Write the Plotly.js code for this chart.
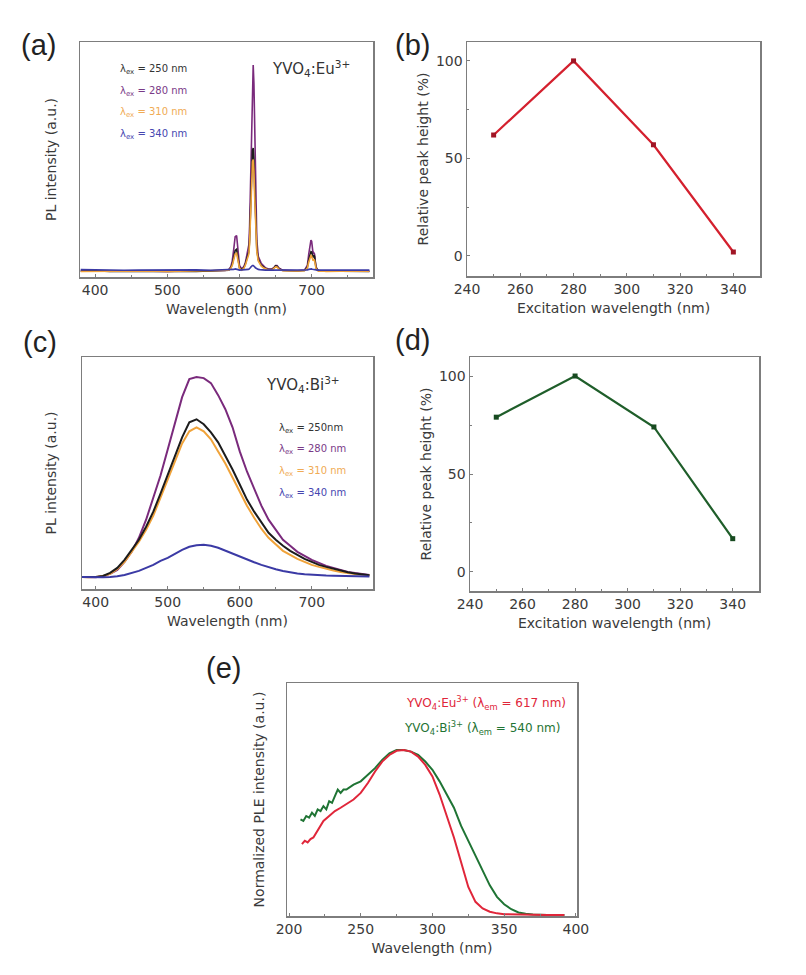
<!DOCTYPE html>
<html>
<head>
<meta charset="utf-8">
<script src="https://cdn.plot.ly/plotly-3.0.1.min.js"></script>
<style>html,body{margin:0;padding:0;background:#fff;}#chart{width:806px;height:975px;}</style>
</head>
<body>
<div id="chart"></div>
<script>
// ---------- Panel (a): YVO4:Eu3+ PL spectra ----------
const wlA = [380,400,420,440,460,480,500,520,540,560,580,585,588,590,592,594,596,598,600,603,606,608,610,612,613,614,615,616,617,618,619,620,621,622,624,626,628,630,633,636,640,645,648,650,652,655,660,670,680,690,694,696,698,699,700,701,702,703,704,705,706,708,710,715,720,740,760,780];
const euEx250 = [0.5,0.7,0.4,0.6,0.5,0.4,0.6,0.5,0.4,0.6,0.7,1,2,3.5,6.5,9.5,10,6,2,1.2,2,3.5,5.5,7.5,9,14,23,35,46,53,54,49,37,24,10,5.5,4,3.2,2.4,1.7,1.2,1.2,2,2.8,2.7,1.5,0.8,0.6,0.6,0.8,2.2,5.5,8.5,9,8.8,7,6.5,7.4,7,4.5,2,1,0.7,0.5,0.6,0.5,0.6,0.4];
const euEx280 = [0.8,0.6,0.5,0.7,0.5,0.6,0.4,0.6,0.5,0.7,0.8,1.2,2.5,5,10,15.5,16,9,3,1.5,2.5,4,7,9,12,20,35,55,75,88,90,82,60,38,14,7,5,4,3,2,1.5,1.5,2.2,3,3,1.8,1,0.8,0.7,1,3,8,13,14,13.5,10,8,8.5,8,5,2.5,1.2,0.8,0.6,0.5,0.6,0.5,0.5];
const euEx310 = [0.4,0.5,0.6,0.4,0.5,0.6,0.4,0.5,0.6,0.5,0.6,0.9,1.8,3,5.5,8,8.3,5,1.8,1,1.8,3,4.8,6.5,8,12.5,21,32,42,48,49,44,33,21,9,5,3.5,2.8,2,1.5,1,1,1.7,2.4,2.3,1.3,0.7,0.5,0.6,0.7,1.8,4.5,7,7.3,7,5.5,5,5.6,5.3,3.5,1.6,0.8,0.5,0.6,0.4,0.5,0.5,0.5];
const euEx340 = [1.2,1,1.1,0.9,1,1.1,0.9,1,1.1,0.9,1,1,1,1.1,1.3,1.5,1.5,1.2,1,1,1,1.1,1.2,1.3,1.4,1.6,2,2.4,2.8,3,3,2.8,2.4,2,1.5,1.3,1.2,1.1,1,1,1,1,1.1,1.2,1.2,1.1,1,1,0.9,1,1.1,1.3,1.5,1.5,1.5,1.4,1.3,1.3,1.3,1.2,1.1,1,1,0.9,1,1,0.9,1];

// ---------- Panels (b) and (d): relative peak height ----------
const excWl = [250, 280, 310, 340];
const euRel = [62, 100, 57, 2];
const biRel = [79, 100, 74, 17];

// ---------- Panel (c): YVO4:Bi3+ PL spectra ----------
const wlC = [380,390,400,410,420,430,440,450,460,470,480,490,500,510,520,530,540,550,560,570,580,590,600,610,620,630,640,650,660,670,680,690,700,710,720,730,740,750,760,770,780];
const biEx250 = [0.5,0.5,0.5,1,2.5,5,9,14,19,25.5,33,42,51.5,61,70,77.5,79,76.5,72.5,67.5,61,54,46.5,39,33,27.5,22.5,19,16,13.5,11.5,9.5,8,6.5,5.5,4.5,3.6,2.8,2.2,1.7,1.3];
const biEx280 = [0.5,0.3,0.3,0.8,2,4,8,13,20,29,40,51,64,77,90,99,100,99.5,97,91,84,75,63,53,44,36,29,24,19,16,13,11,9,7.5,6,5,4,3,2.5,2,1.5];
const biEx310 = [0.5,0.3,0.5,1,2,4.5,8,13,18,24,31,40,49,58,67,73,75,73,69,63,57,50,43,36,30,24.5,20,16.5,13.5,11.5,9.5,8,6.5,5.5,4.5,3.7,3,2.4,2,1.6,1.4];
const biEx340 = [0.5,0.4,0.3,0.4,0.5,0.8,1.5,2.5,3.5,5,6.5,8.5,10,12,14,15.5,16.3,16.5,16,15,13.5,12,10.5,9,7.8,6.5,5.3,4.3,3.5,2.8,2.2,1.8,1.5,1.3,1.2,1.1,1,0.9,0.8,0.8,0.7];

// ---------- Panel (e): normalized PLE ----------
const wlEu = [209,211,213,215,217,219,221,224,228,232,236,240,245,250,255,260,265,270,275,280,285,290,295,300,305,310,315,320,325,330,335,340,345,350,360,370,380,392];
const pleEu = [0.43,0.45,0.44,0.46,0.47,0.50,0.53,0.57,0.60,0.63,0.65,0.67,0.70,0.74,0.80,0.87,0.93,0.97,0.995,1.0,0.99,0.96,0.91,0.84,0.73,0.60,0.47,0.32,0.17,0.08,0.04,0.02,0.01,0.005,0.002,0.001,0,0];
const wlBi = [208,210,212,214,216,218,220,222,224,226,228,230,232,234,236,238,240,245,250,255,260,265,270,275,280,285,290,295,300,305,310,315,320,325,330,335,340,345,350,355,360,365,370,380,392];
const pleBi = [0.58,0.57,0.60,0.59,0.62,0.60,0.64,0.63,0.66,0.64,0.69,0.68,0.72,0.76,0.74,0.76,0.76,0.79,0.81,0.85,0.89,0.94,0.98,1.0,1.0,0.99,0.97,0.93,0.88,0.81,0.73,0.65,0.54,0.45,0.35,0.26,0.18,0.11,0.065,0.035,0.015,0.007,0.003,0,0];

// ---------- colours ----------
const cBlack = '#1c1c1c', cPurple = '#7a2a7c', cOrange = '#f0a33a', cBlue = '#3b3aa5';
const cRed = '#e0263a', cGreen = '#1f7434';

const W = 806, H = 975;
const px = v => v / W;
const py = v => 1 - v / H;

function line(x, y, color, xa, ya, width) {
  return {x: x, y: y, type: 'scatter', mode: 'lines', xaxis: xa, yaxis: ya,
          line: {color: color, width: width || 1.6}, hoverinfo: 'skip', showlegend: false};
}
const traces = [
  line(wlA, euEx280, cPurple, 'x', 'y'),
  line(wlA, euEx250, cBlack, 'x', 'y'),
  line(wlA, euEx310, cOrange, 'x', 'y'),
  line(wlA, euEx340, cBlue, 'x', 'y'),
  {x: excWl, y: euRel, type: 'scatter', mode: 'lines+markers', xaxis: 'x2', yaxis: 'y2',
   line: {color: '#d4202e', width: 2.2}, marker: {symbol: 'square', size: 5, color: '#a01525'}, showlegend: false},
  line(wlC, biEx280, cPurple, 'x3', 'y3', 2),
  line(wlC, biEx310, cOrange, 'x3', 'y3', 2),
  line(wlC, biEx250, cBlack, 'x3', 'y3', 2),
  line(wlC, biEx340, cBlue, 'x3', 'y3', 2),
  {x: excWl, y: biRel, type: 'scatter', mode: 'lines+markers', xaxis: 'x4', yaxis: 'y4',
   line: {color: '#1f5e2a', width: 2.2}, marker: {symbol: 'square', size: 5, color: '#174a20'}, showlegend: false},
  line(wlBi, pleBi, cGreen, 'x5', 'y5', 2),
  line(wlEu, pleEu, cRed, 'x5', 'y5', 2)
];

const FAM = 'DejaVu Sans, Verdana, sans-serif';
const FAM2 = 'Liberation Sans, Arial, sans-serif';
const tickFont = {family: FAM, size: 14, color: '#3a3a3a'};
const titleFont = {family: FAM, size: 14, color: '#3a3a3a'};
const minorT = {ticks: 'inside', ticklen: 2, tickcolor: '#7d7d7d'};
function ax(domain, range, anchor, opts) {
  return Object.assign({
    domain: domain, range: range, anchor: anchor, showgrid: false, zeroline: false,
    showline: true, mirror: true, linecolor: '#7d7d7d', linewidth: 1.5,
    ticks: 'inside', ticklen: 3, tickcolor: '#7d7d7d', tickfont: tickFont
  }, opts);
}

const layout = {
  width: W, height: H, margin: {l: 0, r: 0, t: 0, b: 0},
  paper_bgcolor: '#fff', plot_bgcolor: '#fff', showlegend: false,
  font: {family: FAM2, color: '#333'},
  xaxis: ax([px(80), px(373)], [379, 785], 'y', {dtick: 100, tick0: 400, minor: Object.assign({dtick: 50}, minorT),
          title: {text: 'Wavelength (nm)', font: titleFont, standoff: 7}}),
  yaxis: ax([py(277), py(42)], [-2, 100], 'x', {showticklabels: false, ticks: '',
          title: {text: 'PL intensity (a.u.)', font: titleFont, standoff: 18}}),
  xaxis2: ax([px(467), px(760)], [240, 350], 'y2', {dtick: 20, tick0: 240, minor: Object.assign({dtick: 10}, minorT),
          title: {text: 'Excitation wavelength (nm)', font: titleFont, standoff: 7}}),
  yaxis2: ax([py(276), py(42)], [-10.3, 109.7], 'x2', {dtick: 50, tick0: 0, minor: Object.assign({dtick: 25}, minorT),
          title: {text: 'Relative peak height (%)', font: titleFont, standoff: 4}}),
  xaxis3: ax([px(82), px(373)], [381, 785], 'y3', {dtick: 100, tick0: 400, minor: Object.assign({dtick: 50}, minorT),
          title: {text: 'Wavelength (nm)', font: titleFont, standoff: 7}}),
  yaxis3: ax([py(589), py(357)], [-5.5, 110], 'x3', {showticklabels: false, ticks: '',
          title: {text: 'PL intensity (a.u.)', font: titleFont, standoff: 20}}),
  xaxis4: ax([px(470), px(759)], [240, 350], 'y4', {dtick: 20, tick0: 240, minor: Object.assign({dtick: 10}, minorT),
          title: {text: 'Excitation wavelength (nm)', font: titleFont, standoff: 7}}),
  yaxis4: ax([py(591), py(357)], [-9.7, 109.7], 'x4', {dtick: 50, tick0: 0, minor: Object.assign({dtick: 25}, minorT),
          title: {text: 'Relative peak height (%)', font: titleFont, standoff: 4}}),
  xaxis5: ax([px(287), px(577)], [198.6, 400.8], 'y5', {dtick: 50, tick0: 200, minor: Object.assign({dtick: 25}, minorT),
          title: {text: 'Wavelength (nm)', font: titleFont, standoff: 7}}),
  yaxis5: ax([py(916), py(683)], [-0.006, 1.406], 'x5', {showticklabels: false, ticks: '',
          title: {text: 'Normalized PLE intensity (a.u.)', font: titleFont, standoff: 17}}),
  annotations: []
};

function ann(x, y, text, size, color, xanchor, fam) {
  layout.annotations.push({xref: 'paper', yref: 'paper', x: px(x), y: py(y), text: text, showarrow: false,
    xanchor: xanchor || 'left', yanchor: 'middle',
    font: {family: fam || FAM2, size: size, color: color}});
}
// panel letters
ann(19, 45, '(a)', 29, '#222');
ann(393, 45, '(b)', 29, '#222');
ann(21, 342, '(c)', 29, '#222');
ann(393, 340, '(d)', 29, '#222');
ann(204, 668, '(e)', 29, '#222');
// panel (a) labels
ann(270, 68, 'YVO<sub>4</sub>:Eu<sup>3+</sup>', 15, '#333', 'left', FAM);
ann(118, 70, 'λ<sub>ex</sub> = 250 nm', 10, '#333', 'left', FAM);
ann(118, 91, 'λ<sub>ex</sub> = 280 nm', 10, '#7a3a88', 'left', FAM);
ann(118, 113, 'λ<sub>ex</sub> = 310 nm', 10, '#f0ab55', 'left', FAM);
ann(118, 135, 'λ<sub>ex</sub> = 340 nm', 10, '#4646b0', 'left', FAM);
// panel (c) labels
ann(264, 385, 'YVO<sub>4</sub>:Bi<sup>3+</sup>', 15, '#333', 'left', FAM);
ann(277, 428, 'λ<sub>ex</sub> = 250nm', 10, '#333', 'left', FAM);
ann(277, 449, 'λ<sub>ex</sub> = 280 nm', 10, '#7a3a88', 'left', FAM);
ann(277, 471, 'λ<sub>ex</sub> = 310 nm', 10, '#f0ab55', 'left', FAM);
ann(277, 493, 'λ<sub>ex</sub> = 340 nm', 10, '#4646b0', 'left', FAM);
// panel (e) labels
ann(568, 703, 'YVO<sub>4</sub>:Eu<sup>3+</sup> (λ<sub>em</sub> = 617 nm)', 12, cRed, 'right', FAM);
ann(562, 728, 'YVO<sub>4</sub>:Bi<sup>3+</sup> (λ<sub>em</sub> = 540 nm)', 12, cGreen, 'right', FAM);

Plotly.newPlot('chart', traces, layout, {staticPlot: true, displayModeBar: false});
</script>
</body>
</html>
